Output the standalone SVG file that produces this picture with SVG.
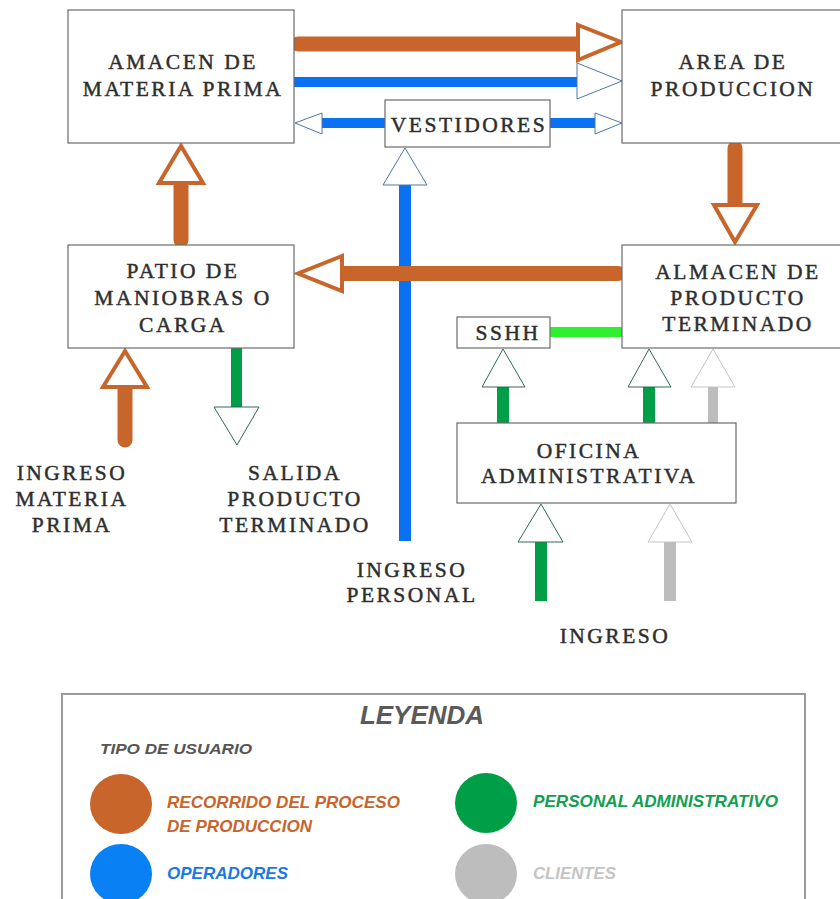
<svg xmlns="http://www.w3.org/2000/svg" width="840" height="899" viewBox="0 0 840 899">
<style>
.box{fill:#fff;stroke:#6b6b6b;stroke-width:1.2}
.t{font-family:"Liberation Serif","Times New Roman",serif;font-size:21.5px;letter-spacing:2.5px;fill:#2e2e2e;stroke:#2e2e2e;stroke-width:0.45;text-anchor:middle}
.ob{stroke:#c8652a;stroke-width:15;stroke-linecap:round}
.oh{fill:#fff;stroke:#c8652a;stroke-width:4;stroke-linejoin:miter}
.bb{fill:#0a72f2}
.bh{fill:#fff;stroke:#4f77a8;stroke-width:1}
.gb{fill:#009e47}
.gh{fill:#fff;stroke:#2f6b55;stroke-width:1}
.yb{fill:#bdbdbd}
.yh{fill:#fff;stroke:#c4c4c4;stroke-width:1}
.lg{font-family:"Liberation Sans",Arial,sans-serif;font-style:italic;font-weight:bold}
</style>
<rect width="840" height="899" fill="#fff"/>
<g id="connectors">
  <line class="ob" x1="298" y1="44" x2="578" y2="44"/>
  <polygon class="oh" points="578,25 621,42 578,60"/>
  <rect class="bb" x="294" y="77" width="283" height="10"/>
  <polygon class="bh" points="577,63 622,81 577,99"/>
  <rect class="bb" x="322" y="118" width="63" height="10"/>
  <polygon class="bh" points="322,113 295,123 322,134"/>
  <rect class="bb" x="550" y="118" width="45" height="10"/>
  <polygon class="bh" points="595,113 622,123 595,134"/>
  <rect class="bb" x="399" y="185" width="12" height="356"/>
  <polygon class="bh" points="383,185 405,148 427,185"/>
  <line class="ob" x1="181" y1="183" x2="181" y2="240"/>
  <polygon class="oh" points="159,183 181,146 203,183"/>
  <line class="ob" x1="735" y1="148" x2="735" y2="205"/>
  <polygon class="oh" points="714,205 735,242 757,205"/>
  <line class="ob" x1="342" y1="273.5" x2="618" y2="273.5"/>
  <polygon class="oh" points="342,256 298,273.5 342,291"/>
  <line class="ob" x1="125" y1="387" x2="125" y2="440"/>
  <polygon class="oh" points="103,387 125,351 147,387"/>
  <rect class="gb" x="231" y="348" width="11" height="59"/>
  <polygon class="gh" points="214,407 259,407 237,445"/>
  <rect x="550" y="327" width="72" height="10" fill="#2ef02e"/>
  <rect class="gb" x="497" y="387" width="12" height="36"/>
  <polygon class="gh" points="482,387 503,349 525,387"/>
  <rect class="gb" x="643" y="387" width="12" height="36"/>
  <polygon class="gh" points="628,387 649,349 671,387"/>
  <rect class="yb" x="708" y="387" width="10" height="36"/>
  <polygon class="yh" points="691,387 713,349 735,387"/>
  <rect class="gb" x="535" y="542" width="12" height="59"/>
  <polygon class="gh" points="518,542 541,504 563,542"/>
  <rect class="yb" x="664" y="542" width="12" height="59"/>
  <polygon class="yh" points="648,542 670,504 692,542"/>
</g>
<g id="materia-prima">
  <rect class="box" x="68" y="10" width="226" height="133"/>
  <text class="t" x="183" y="69">AMACEN DE</text>
  <text class="t" x="183" y="96">MATERIA PRIMA</text>
</g>
<g id="produccion">
  <rect class="box" x="622" y="10" width="230" height="133"/>
  <text class="t" x="733" y="69">AREA DE</text>
  <text class="t" x="733" y="96">PRODUCCION</text>
</g>
<g id="vestidores">
  <rect class="box" x="385" y="100" width="165" height="47"/>
  <text class="t" x="469" y="132">VESTIDORES</text>
</g>
<g id="patio">
  <rect class="box" x="68" y="245" width="226" height="103"/>
  <text class="t" x="183" y="278">PATIO DE</text>
  <text class="t" x="183" y="305">MANIOBRAS O</text>
  <text class="t" x="183" y="332">CARGA</text>
</g>
<g id="almacen">
  <rect class="box" x="622" y="245" width="230" height="103"/>
  <text class="t" x="738" y="279">ALMACEN DE</text>
  <text class="t" x="738" y="305">PRODUCTO</text>
  <text class="t" x="738" y="331">TERMINADO</text>
</g>
<g id="sshh">
  <rect class="box" x="457" y="317" width="93" height="31"/>
  <text class="t" x="508" y="340">SSHH</text>
</g>
<g id="oficina">
  <rect class="box" x="457" y="423" width="279" height="80"/>
  <text class="t" x="589" y="458">OFICINA</text>
  <text class="t" x="589" y="483">ADMINISTRATIVA</text>
</g>
<g id="ingreso-materia-prima">
  <text class="t" x="72" y="480">INGRESO</text>
  <text class="t" x="72" y="506">MATERIA</text>
  <text class="t" x="72" y="532">PRIMA</text>
</g>
<g id="salida-producto">
  <text class="t" x="295" y="480">SALIDA</text>
  <text class="t" x="295" y="506">PRODUCTO</text>
  <text class="t" x="295" y="532">TERMINADO</text>
</g>
<g id="ingreso-personal">
  <text class="t" x="412" y="577">INGRESO</text>
  <text class="t" x="412" y="602">PERSONAL</text>
</g>
<g id="ingreso">
  <text class="t" x="615" y="643">INGRESO</text>
</g>
<g id="leyenda">
  <rect x="62" y="694" width="743" height="220" fill="#fff" stroke="#9a9a9a" stroke-width="2"/>
  <text class="lg" x="422" y="724" font-size="26" fill="#5a5a5a" text-anchor="middle">LEYENDA</text>
  <text class="lg" x="100" y="754" font-size="15" fill="#555" textLength="152" lengthAdjust="spacingAndGlyphs">TIPO DE USUARIO</text>
  <ellipse cx="121" cy="804" rx="31" ry="30" fill="#c8652a"/>
  <text class="lg" x="167" y="808" font-size="17" fill="#c8652a" textLength="233" lengthAdjust="spacingAndGlyphs">RECORRIDO DEL PROCESO</text>
  <text class="lg" x="167" y="832" font-size="17" fill="#c8652a" textLength="145" lengthAdjust="spacingAndGlyphs">DE PRODUCCION</text>
  <ellipse cx="486" cy="803" rx="31" ry="30" fill="#009e47"/>
  <text class="lg" x="533" y="807" font-size="17" fill="#12a050" textLength="245" lengthAdjust="spacingAndGlyphs">PERSONAL ADMINISTRATIVO</text>
  <ellipse cx="121" cy="874" rx="31" ry="30" fill="#0a80f5"/>
  <text class="lg" x="167" y="879" font-size="17" fill="#1a78e8" textLength="121" lengthAdjust="spacingAndGlyphs">OPERADORES</text>
  <ellipse cx="486" cy="874" rx="31" ry="30" fill="#bdbdbd"/>
  <text class="lg" x="533" y="879" font-size="17" fill="#c4c4c4" textLength="83" lengthAdjust="spacingAndGlyphs">CLIENTES</text>
</g>
</svg>
